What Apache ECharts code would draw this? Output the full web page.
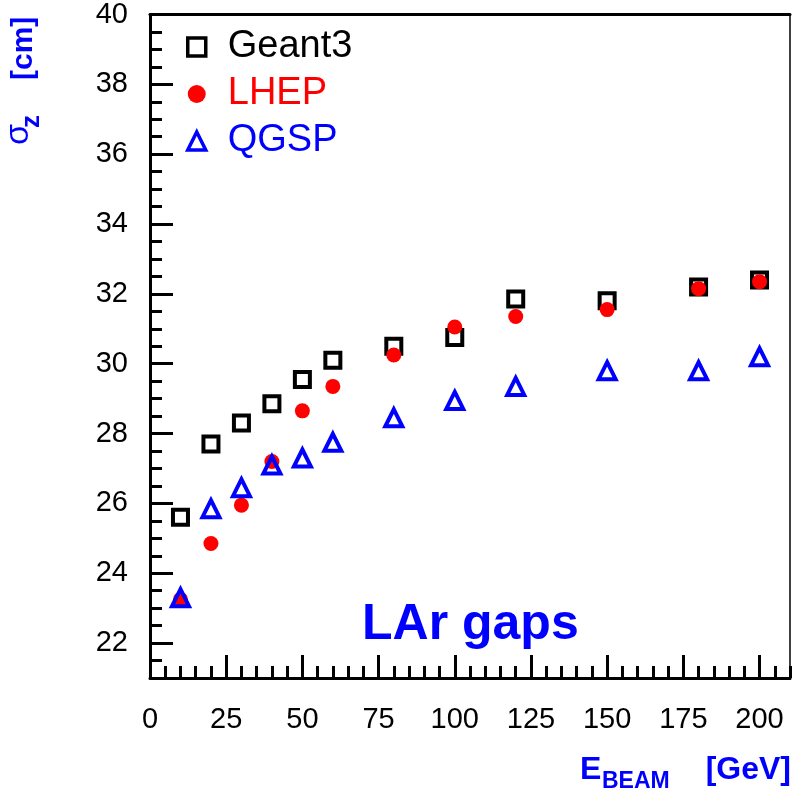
<!DOCTYPE html>
<html><head><meta charset="utf-8">
<script src="https://cdn.jsdelivr.net/npm/echarts@6.0.0/dist/echarts.min.js"></script>
<style>html,body{margin:0;padding:0;background:#fff}#c{width:792px;height:792px}</style>
</head><body><div id="c"></div>
<script>
const energies = [10, 20, 30, 40, 50, 60, 80, 100, 120, 150, 180, 200];
const geant3 = [25.6, 27.7, 28.3, 28.85, 29.55, 30.1, 30.5, 30.75, 31.85, 31.8, 32.2, 32.4];
const lhep = [23.25, 24.85, 25.95, 27.2, 28.65, 29.35, 30.25, 31.05, 31.35, 31.55, 32.15, 32.35];
const qgsp = [23.3, 25.85, 26.45, 27.1, 27.3, 27.75, 28.45, 28.95, 29.35, 29.8, 29.8, 30.2];
const xTickLabels = [0, 25, 50, 75, 100, 125, 150, 175, 200];
const yTickLabels = [22, 24, 26, 28, 30, 32, 34, 36, 38, 40];
const seriesNames = ['Geant3', 'LHEP', 'QGSP'];

const X_MIN = 0, X_MAX = 210, Y_MIN = 21, Y_MAX = 40;
const xMinor = []; for (let v = 0; v <= X_MAX; v += 5) xMinor.push(v);
const yMinor = []; for (let v = 21.5; v <= Y_MAX; v += 0.5) yMinor.push(v);

const FONT = 'Liberation Sans, Arial, sans-serif';
const BLUE = '#0000ff', RED = '#ff0000';
const pairs = arr => energies.map((e, i) => [e, arr[i]]);

const chart = echarts.init(document.getElementById('c'), null, {renderer: 'canvas'});
const lineStyle = {color: '#000', width: 3};
const tickStyle = {color: '#000', width: 3};
chart.setOption({
  animation: false,
  backgroundColor: '#fff',
  grid: {left: 150, top: 13, right: 2, bottom: 114, containLabel: false},
  xAxis: [
    {type: 'value', min: X_MIN, max: X_MAX, position: 'bottom',
     axisLine: {show: true, onZero: false, lineStyle},
     axisTick: {show: true, inside: true, length: 23, lineStyle: tickStyle, customValues: xTickLabels},
     axisLabel: {show: true, customValues: xTickLabels, margin: 27, fontSize: 29, color: '#000', fontFamily: FONT},
     splitLine: {show: false}},
    {type: 'value', min: X_MIN, max: X_MAX, position: 'top',
     axisLine: {show: true, onZero: false, lineStyle},
     axisTick: {show: false}, axisLabel: {show: false}, splitLine: {show: false}},
    {type: 'value', min: X_MIN, max: X_MAX, position: 'bottom',
     axisLine: {show: false, onZero: false},
     axisTick: {show: true, inside: true, length: 12, lineStyle: tickStyle, customValues: xMinor},
     axisLabel: {show: false}, splitLine: {show: false}}
  ],
  yAxis: [
    {type: 'value', min: Y_MIN, max: Y_MAX, position: 'left',
     axisLine: {show: true, onZero: false, lineStyle},
     axisTick: {show: true, inside: true, length: 23, lineStyle: tickStyle, customValues: yTickLabels},
     axisLabel: {show: true, customValues: yTickLabels, margin: 22, fontSize: 29, color: '#000', fontFamily: FONT},
     splitLine: {show: false}},
    {type: 'value', min: Y_MIN, max: Y_MAX, position: 'left',
     axisLine: {show: false, onZero: false},
     axisTick: {show: true, inside: true, length: 12, lineStyle: tickStyle, customValues: yMinor},
     axisLabel: {show: false}, splitLine: {show: false}},
    {type: 'value', min: Y_MIN, max: Y_MAX, position: 'right',
     axisLine: {show: true, onZero: false, lineStyle: {color: '#000', width: 1.5}},
     axisTick: {show: false}, axisLabel: {show: false}, splitLine: {show: false}}
  ],
  legend: {
    orient: 'vertical', left: 186, top: 28, padding: 0, itemWidth: 18, itemHeight: 18, itemGap: 9,
    itemStyle: {borderWidth: 3.5},
    data: [
      {name: seriesNames[0], textStyle: {color: '#000'}},
      {name: seriesNames[1], textStyle: {color: RED}},
      {name: seriesNames[2], textStyle: {color: BLUE}}
    ],
    textStyle: {fontSize: 38, fontFamily: FONT, padding: [0, 0, 0, 17]}
  },
  series: [
    {type: 'scatter', name: seriesNames[0], data: pairs(geant3), symbol: 'rect', symbolSize: 15,
     itemStyle: {color: 'rgba(0,0,0,0)', borderColor: '#000', borderWidth: 4, opacity: 1}, z: 2},
    {type: 'scatter', name: seriesNames[1], data: pairs(lhep), symbol: 'circle', symbolSize: 15,
     itemStyle: {color: RED, opacity: 1}, z: 3},
    {type: 'scatter', name: seriesNames[2], data: pairs(qgsp), symbol: 'triangle', symbolSize: 17,
     itemStyle: {color: 'rgba(0,0,0,0)', borderColor: BLUE, borderWidth: 4, opacity: 1}, z: 4}
  ],
  graphic: [
    {type: 'text', left: 362, top: 600,
     style: {text: 'LAr gaps', fontSize: 50, fontWeight: 'bold', fill: BLUE, fontFamily: FONT}},
    {type: 'text', x: 580, y: 770,
     style: {text: 'E', align: 'left', verticalAlign: 'middle', fontSize: 32, fontWeight: 'bold', fill: BLUE, fontFamily: FONT}},
    {type: 'text', x: 602, y: 782,
     style: {text: 'BEAM', align: 'left', verticalAlign: 'middle', fontSize: 23, fontWeight: 'bold', fill: BLUE, fontFamily: FONT}},
    {type: 'text', x: 791, y: 770,
     style: {text: '[GeV]', align: 'right', verticalAlign: 'middle', fontSize: 32, fontWeight: 'bold', fill: BLUE, fontFamily: FONT}},
    {type: 'text', x: 19, y: 145, rotation: Math.PI / 2,
     style: {text: 'σ', align: 'left', verticalAlign: 'middle', fontSize: 34, fill: BLUE, fontFamily: FONT}},
    {type: 'text', x: 32, y: 128, rotation: Math.PI / 2,
     style: {text: 'z', align: 'left', verticalAlign: 'middle', fontSize: 26, fontWeight: 'bold', fill: BLUE, fontFamily: FONT}},
    {type: 'text', x: 24, y: 80, rotation: Math.PI / 2,
     style: {text: '[cm]', align: 'left', verticalAlign: 'middle', fontSize: 30, fontWeight: 'bold', fill: BLUE, fontFamily: FONT}}
  ]
});
</script>
</body></html>
